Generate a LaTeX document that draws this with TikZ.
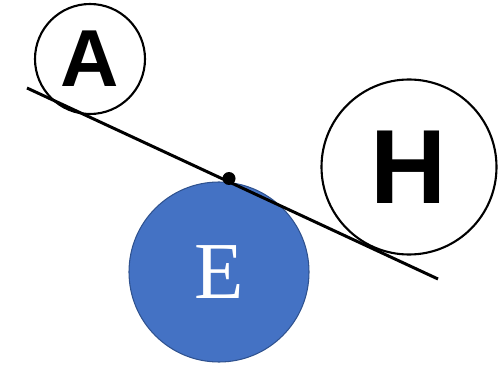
\documentclass[tikz,border=0pt]{standalone}
\usepackage{fontspec}
\setmainfont{Liberation Serif}
\newfontfamily\headfont{Liberation Sans}
\definecolor{eblue}{HTML}{4472C4}
\definecolor{eborder}{HTML}{2F528F}
\tikzset{
  ring/.style={circle, draw, line width=1.2pt, inner sep=0pt},
  bigletter/.style={font=\headfont\bfseries\fontsize{#1}{#1}\selectfont}
}
\begin{document}
\begin{tikzpicture}
\useasboundingbox (0,0) rectangle (9.96,7.3);
\node[ring, minimum size=2.2cm, bigletter=46] (A) at (1.8,6.12) {A};
\node[ring, minimum size=3.5cm, bigletter=60] (H) at (8.18,3.96) {H};
\node[circle, fill=eblue, draw=eborder, line width=0.6pt, minimum size=3.6cm, inner sep=0pt, text=white, font=\fontsize{46}{46}\selectfont] (E) at (4.38,1.86) {E};
\coordinate (s) at (0.54,5.54);
\coordinate (t) at (8.76,1.72);
\draw[black, line width=1.7pt] (s) -- (t);
\node[circle, fill=black, minimum size=0.26cm, inner sep=0pt] (p) at (4.58,3.73) {};
\end{tikzpicture}
\end{document}
